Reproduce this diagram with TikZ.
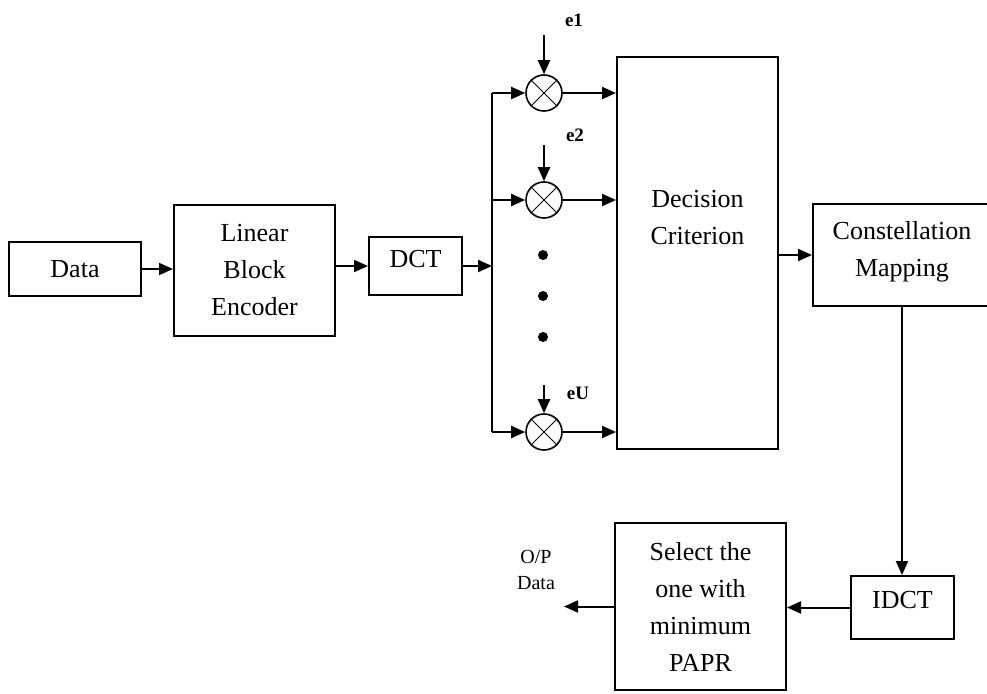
\documentclass[tikz,border=0pt]{standalone}
\usepackage{fontspec}
\setmainfont{Liberation Serif}
\usetikzlibrary{arrows.meta}
\tikzset{
  blk/.style={draw,line width=2pt,align=center,inner sep=2pt,font=\fontsize{26}{37}\selectfont},
  txt/.style={align=center,inner sep=0pt,font=\fontsize{26}{37}\selectfont},
  mul/.style={circle,draw,line width=1.6pt,minimum size=36pt,inner sep=0pt},
  nyl/.style={line width=2pt,-{Triangle[length=14pt,width=12pt]}},
  lin/.style={line width=2pt},
  lab/.style={inner sep=0pt,font=\bfseries\fontsize{19}{22}\selectfont},
  pnt/.style={circle,fill,inner sep=0pt,minimum size=10pt},
}

\begin{document}
\begin{tikzpicture}[x=1pt,y=-1pt]
  \clip (0,0) rectangle (987,693);
  \node[blk,minimum width=132pt,minimum height=54pt] (data) at (75,269) {Data};
  \node[blk,minimum width=161pt,minimum height=131pt] (lbe) at (254.5,270.5) {Linear\\Block\\Encoder};
  \node[blk,minimum width=93pt,minimum height=58pt,text depth=14pt] (dct) at (415.5,266) {DCT};
  \node[blk,minimum width=161pt,minimum height=392pt] (dec) at (697.5,253) {};
  \node[txt] (dectxt) at (697.5,218) {Decision\\Criterion};
  \node[blk,minimum width=178pt,minimum height=102pt,text depth=13pt] (cm) at (902,255) {Constellation\\Mapping};
  \node[blk,minimum width=103pt,minimum height=63pt,text depth=16pt] (idct) at (902.5,607.5) {IDCT};
  \node[blk,minimum width=171pt,minimum height=167pt] (sel) at (700.5,606.5) {Select the\\one with\\minimum\\PAPR};
  \node[align=center,inner sep=0pt,font=\fontsize{20}{26}\selectfont] (op) at (536,570) {O/P\\Data};
  \coordinate (outp) at (564,606.5);

  \draw[nyl] (data) -- (data.east -| lbe.west);
  \draw[nyl] (lbe.east |- dct.west) -- (dct.west);
  \foreach \n/\y in {1/93,2/200,3/432} {
    \coordinate (b\n) at (492,\y);
    \node[mul] (m\n) at (544,\y) {};
    \draw[line width=1pt] (m\n.north west) -- (m\n.south east) (m\n.north east) -- (m\n.south west);
    \draw[nyl] (b\n) -- (m\n.west);
    \draw[nyl] (m\n.east) -- (m\n.east -| dec.west);
  }
  \draw[lin] (b1) -- (b3);
  \draw[nyl] (dct.east) -- (dct.east -| b1);

  \coordinate (t1) at (544,35);
  \coordinate (t2) at (544,145);
  \coordinate (t3) at (544,385);
  \foreach \n in {1,2,3} \draw[nyl] (t\n) -- (m\n.north);
  \node[lab] (e1) at (574,20) {e1};
  \node[lab] (e2) at (575,135) {e2};
  \node[lab] (eu) at (578,393) {eU};

  \foreach \y [count=\i] in {255,296,337} \node[pnt] (d\i) at (543,\y) {};

  \draw[nyl] (dec.east |- cm.west) -- (cm.west);
  \draw[nyl] (cm.south) -- (cm.south |- idct.north);
  \draw[nyl] (idct.west) -- (idct.west -| sel.east);
  \draw[nyl] (sel.west) -- (outp);
\end{tikzpicture}
\end{document}
